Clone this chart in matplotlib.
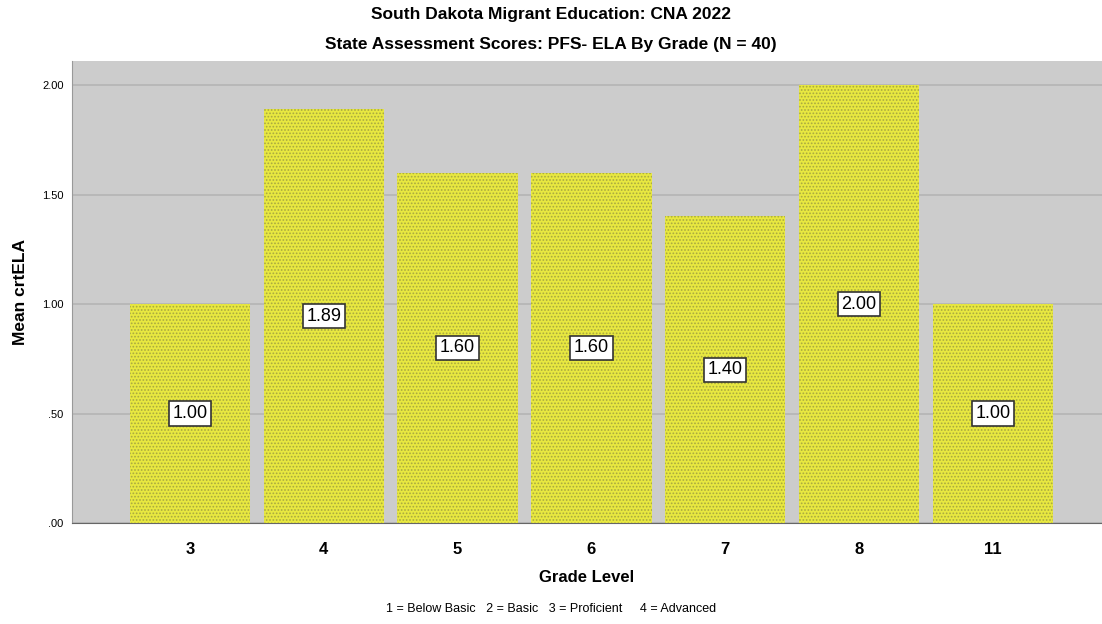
import matplotlib.pyplot as plt

plt.rcParams['font.family'] = ['Liberation Sans', 'DejaVu Sans']
plt.rcParams['hatch.linewidth'] = 0.8

grades = ["3", "4", "5", "6", "7", "8", "11"]
means = [1.00, 1.89, 1.60, 1.60, 1.40, 2.00, 1.00]
yticks = [0, 0.5, 1.0, 1.5, 2.0]
ytick_labels = [".00", ".50", "1.00", "1.50", "2.00"]

fig = plt.figure(figsize=(11.02, 6.24), dpi=100)
ax = fig.add_axes([72 / 1102, 1 - 523 / 624, (1102 - 72) / 1102, (523 - 61) / 624])
ax.set_facecolor('#cccccc')

x = list(range(len(grades)))
bars = ax.bar(x, means, width=0.9, color='#e8e840', edgecolor='#a8a840',
              hatch='.....', linewidth=0, zorder=3)

# value boxes in the middle of each bar
for i, v in enumerate(means):
    ax.text(i, v / 2, "%.2f" % v, ha='center', va='center', fontsize=13, zorder=4,
            bbox=dict(boxstyle='square,pad=0.2', facecolor='white', edgecolor='#333333', linewidth=1.2))

ax.set_xlim(-0.882, 6.816)
ax.set_ylim(0, 2.11)
ax.set_xticks(x)
ax.set_xticklabels(grades, fontsize=12, fontweight='bold')
ax.set_yticks(yticks)
ax.set_yticklabels(ytick_labels, fontsize=8)
ax.yaxis.grid(True, color='#b4b4b4', linewidth=1.2, zorder=0)
ax.set_axisbelow(True)
ax.tick_params(axis='both', length=0)
ax.tick_params(axis='x', pad=14)
ax.tick_params(axis='y', pad=6)

for s in ['top', 'right']:
    ax.spines[s].set_visible(False)
ax.spines['left'].set_color('#999999')
ax.spines['bottom'].set_color('#666666')

ax.set_ylabel("Mean crtELA", fontsize=12.5, fontweight='bold', labelpad=10)
ax.set_xlabel("Grade Level", fontsize=12, fontweight='bold', labelpad=9)

fig.text(0.5, 1 - 14 / 624, "South Dakota Migrant Education: CNA 2022", ha='center', va='center',
         fontsize=12.5, fontweight='bold')
fig.text(0.5, 1 - 45 / 624, "State Assessment Scores: PFS- ELA By Grade (N = 40)", ha='center', va='center',
         fontsize=12.5, fontweight='bold')
fig.text(0.5, 1 - 609 / 624, "1 = Below Basic   2 = Basic   3 = Proficient     4 = Advanced",
         ha='center', va='center', fontsize=9)

fig.savefig("out.png", dpi=100)
